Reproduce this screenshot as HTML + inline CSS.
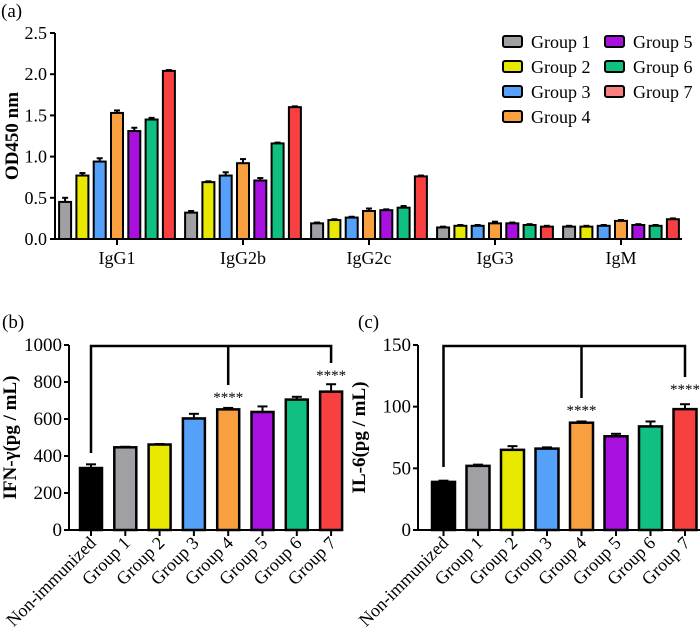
<!DOCTYPE html>
<html><head><meta charset="utf-8"><style>
body{margin:0;background:#fff}
svg, svg text{font-family:"Liberation Serif","DejaVu Serif","Times New Roman",serif}
</style></head><body>
<svg id="fig" width="700" height="634" viewBox="0 0 700 634" font-family="Liberation Serif, DejaVu Serif, serif"></svg>
<script>
const colors=["#a0a0a4","#e8e800","#55a0f8","#f8a040","#a810e0","#10c080","#f84040"];
const groupNames=["Group 1","Group 2","Group 3","Group 4","Group 5","Group 6","Group 7"];
const isotypes=["IgG1","IgG2b","IgG2c","IgG3","IgM"];
const odValues=[
 [0.45,0.77,0.94,1.53,1.31,1.45,2.04],
 [0.32,0.69,0.77,0.92,0.71,1.16,1.60],
 [0.19,0.23,0.26,0.34,0.35,0.38,0.76],
 [0.14,0.16,0.16,0.19,0.19,0.17,0.15],
 [0.15,0.15,0.16,0.22,0.17,0.16,0.24]];
const odErrors=[
 [0.05,0.03,0.04,0.03,0.04,0.02,0.01],
 [0.02,0.01,0.04,0.05,0.03,0.01,0.01],
 [0.01,0.01,0.01,0.03,0.01,0.02,0.01],
 [0.01,0.01,0.01,0.02,0.01,0.01,0.01],
 [0.01,0.01,0.01,0.01,0.01,0.01,0.01]];
const odTicks=[0,0.5,1.0,1.5,2.0,2.5];
const cytoCats=["Non-immunized","Group 1","Group 2","Group 3","Group 4","Group 5","Group 6","Group 7"];
const cytoColors=["#000000"].concat(colors);
const ifnValues=[335,447,462,603,652,638,705,748];
const ifnErrors=[20,3,3,25,8,30,15,40];
const ifnTicks=[0,200,400,600,800,1000];
const il6Values=[39,52,65,66,87,76,84,98];
const il6Errors=[1,1,3,1,1,2,4,4];
const il6Ticks=[0,50,100,150];

const svg=document.getElementById('fig');
const NS='http://www.w3.org/2000/svg';
const FONT='Liberation Serif, DejaVu Serif, serif';
function el(tag,attrs,parent){const e=document.createElementNS(NS,tag);for(const k in attrs)e.setAttribute(k,attrs[k]);(parent||svg).appendChild(e);return e;}
function txt(s,attrs,parent){attrs['font-family']=FONT;const e=el('text',attrs,parent);e.textContent=s;return e;}

// ---- Panel a ----
const a=el('g',{});


const ay=v=>239-v*82.4;
const aGroupX=i=>117+i*126;
const pl=txt('(a)',{x:1,y:17,'font-size':19},a);

el('line',{x1:55,y1:33,x2:55,y2:240,stroke:'#000','stroke-width':2},a);
el('line',{x1:54,y1:239,x2:682,y2:239,stroke:'#000','stroke-width':2},a);
odTicks.forEach(t=>{el('line',{x1:50,x2:55,y1:ay(t),y2:ay(t),stroke:'#000','stroke-width':2},a);
 const l=txt(t.toFixed(1),{x:47,y:ay(t)+6,'font-size':18,'text-anchor':'end'},a);
 });
const ayt=txt('OD450  nm',{x:0,y:0,'font-size':19,'font-weight':'bold','text-anchor':'middle',transform:'translate(18,136) rotate(-90)'},a);

isotypes.forEach((iso,gi)=>{
 const cx=aGroupX(gi);
 el('line',{x1:cx,x2:cx,y1:239,y2:245,stroke:'#000','stroke-width':2},a);
 const l=txt(iso,{x:cx,y:264,'font-size':18,'text-anchor':'middle'},a);
 
 odValues[gi].forEach((v,i)=>{
  const bx=cx+(i-3)*17.3-6;
  const top=ay(v+odErrors[gi][i]);
  el('line',{x1:bx+6,x2:bx+6,y1:ay(v),y2:top,stroke:'#000','stroke-width':2},a);
  el('line',{x1:bx+3,x2:bx+9,y1:top,y2:top,stroke:'#000','stroke-width':2},a);
  const r=el('rect',{x:bx,y:ay(v),width:12,height:239-ay(v),fill:colors[i],stroke:'#000','stroke-width':2},a);
  
  
 });
});
groupNames.forEach((g,i)=>{
 const col=i<4?0:1,row=i<4?i:i-4;
 const x=col?605:503,y=42+row*25;
 const lg=el('g',{},a);
 
 
 el('rect',{x:x,y:y-6,width:19,height:11,rx:2,fill:i==6?'#f88080':colors[i],stroke:'#000','stroke-width':2},lg);
 txt(g,{x:x+28,y:y+6,'font-size':18},lg);
});

function cytoPanel(name,label,lx,axX,y0,yTop,maxV,ticks,vals,errs,title,startX,step,bw,axEnd,bracket){
 const g=el('g',{});
 
 
 const y=v=>y0-(v/maxV)*(y0-yTop);
 const xc=i=>startX+i*step;
 const pl=txt(label,{x:lx,y:328,'font-size':19},g);
 
 el('line',{x1:axX,y1:yTop,x2:axX,y2:y0+1,stroke:'#000','stroke-width':2},g);
 el('line',{x1:axX-1,y1:y0,x2:axEnd,y2:y0,stroke:'#000','stroke-width':2},g);
 ticks.forEach(t=>{el('line',{x1:axX-5,x2:axX,y1:y(t),y2:y(t),stroke:'#000','stroke-width':2},g);
  const l=txt(String(t),{x:axX-7,y:y(t)+6,'font-size':19,'text-anchor':'end'},g);
  });
 const t=txt(title,{x:0,y:0,'font-size':19,'font-weight':'bold','text-anchor':'middle',transform:'translate('+(axX-53)+','+((y0+yTop)/2)+') rotate(-90)'},g);
 
 vals.forEach((v,i)=>{
  const cx=xc(i);
  el('line',{x1:cx,x2:cx,y1:y0,y2:y0+6,stroke:'#000','stroke-width':2},g);
  const l=txt(cytoCats[i],{x:0,y:0,'font-size':18,'text-anchor':'end',transform:'translate('+(cx+6)+','+(y0+14)+') rotate(-45)'},g);
  
  const top=y(v+errs[i]);
  el('line',{x1:cx,x2:cx,y1:y(v),y2:top,stroke:'#000','stroke-width':2},g);
  el('line',{x1:cx-5,x2:cx+5,y1:top,y2:top,stroke:'#000','stroke-width':2},g);
  const r=el('rect',{x:cx-bw/2,y:y(v),width:bw,height:y0-y(v),fill:cytoColors[i],stroke:'#000','stroke-width':2.5},g);
  
  
 });
 const bg=el('g',{},g);
 
 
 const bt=yTop+1;
 el('polyline',{points:xc(0)+','+bracket[0]+' '+xc(0)+','+bt+' '+xc(7)+','+bt+' '+xc(7)+','+bracket[2],fill:'none',stroke:'#000','stroke-width':2.5},bg);
 el('line',{x1:xc(4),x2:xc(4),y1:bt,y2:bracket[1],stroke:'#000','stroke-width':2.5},bg);
 [4,7].forEach((i,k)=>{const s=txt('****',{x:xc(i),y:(k?bracket[2]:bracket[1])+17,'font-size':15,'text-anchor':'middle'},bg);
  });
}
cytoPanel('panel-b-ifn-gamma','(b)',2,69,530,345,1000,ifnTicks,ifnValues,ifnErrors,'IFN-γ(pg / mL)',91,34.3,22,343,[453,385,363]);
cytoPanel('panel-c-il-6','(c)',358,418,530,345,150,il6Ticks,il6Values,il6Errors,'IL-6(pg / mL)',443.5,34.5,23,700,[467,398,377]);
</script>
</body></html>
